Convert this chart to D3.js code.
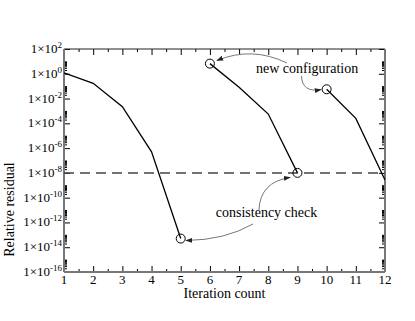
<!DOCTYPE html>
<html>
<head>
<meta charset="utf-8">
<script src="https://cdn.jsdelivr.net/npm/d3@7"></script>
<style>
  body { margin: 0; background: #fff; }
  svg text { font-family: "Liberation Serif", "DejaVu Serif", serif; }
</style>
</head>
<body>
<div id="chart"></div>
<script>
// iterations and relative residuals, one array per solve
var run1X = [1, 2, 3, 4, 5];
var run1Y = [1.2, 0.17, 2.2e-3, 5e-7, 5e-14];
var run2X = [6, 7, 8, 9];
var run2Y = [6.6, 0.08, 5.6e-4, 1e-8];
var run3X = [10, 11, 12];
var run3Y = [0.056, 2.5e-4, 2.7e-9];

// circled points
var markX = [5, 6, 9, 10];
var markY = [5e-14, 6.6, 1e-8, 0.056];

var threshold = 1e-8;

var xTicks = [1, 2, 3, 4, 5, 6, 7, 8, 9, 10, 11, 12];
var yExponents = [2, 0, -2, -4, -6, -8, -10, -12, -14, -16];

// annotations, in data units: [iteration, log10(residual)]
var arrows = [
  [[8.64, 0.87], [7.44, 2.24], [6.24, 1.07]],
  [[9.14, -0.18], [9.16, -1.55], [9.81, -1.27]],
  [[7.68, -10.99], [7.72, -8.73], [8.75, -8.37]],
  [[7.48, -12.12], [6.52, -13.42], [5.18, -13.46]]
];
var labels = [
  { text: "new configuration", x: 9.33, e: 0.09 },
  { text: "consistency check", x: 7.94, e: -11.54 }
];

var serif = "Liberation Serif";

var svgWidth = 415, svgHeight = 321;
var margin = { top: 49, right: 30, bottom: 49, left: 64 };
var width = svgWidth - margin.left - margin.right;
var height = svgHeight - margin.top - margin.bottom;

var svg = d3.select("#chart").append("svg")
  .attr("width", svgWidth)
  .attr("height", svgHeight);

var defs = svg.append("defs");
defs.append("marker")
  .attr("id", "head")
  .attr("viewBox", "0 0 10 10")
  .attr("refX", 9).attr("refY", 5)
  .attr("markerWidth", 7).attr("markerHeight", 7)
  .attr("markerUnits", "userSpaceOnUse")
  .attr("orient", "auto")
  .append("path")
  .attr("d", "M0,1.5 L10,5 L0,8.5 z")
  .attr("fill", "#222");
defs.append("clipPath").attr("id", "clip")
  .append("rect").attr("width", width).attr("height", height);

var g = svg.append("g")
  .attr("transform", `translate(${margin.left}, ${margin.top})`);

var x = d3.scaleLinear().domain([1, 12]).range([0, width]);
var y = d3.scaleLog().domain([1e-16, 1e2]).range([height, 0]);

// minor ticks: 2..10 x 10^e for even e
var yMinor = [];
yExponents.filter(e => e < 2).forEach(e => {
  for (var k = 2; k <= 10; k++) yMinor.push(k * Math.pow(10, e));
});
var xMinor = d3.range(1.5, 12, 1);
var yMajor = yExponents.map(e => Math.pow(10, e));

function styleAxis(sel) {
  sel.select(".domain").remove();
  sel.selectAll("line").attr("stroke", "#000").attr("stroke-width", 1);
  sel.selectAll("text").remove();
}

// x axes (bottom & top, ticks inward)
g.append("g").attr("transform", `translate(0, ${height})`)
  .call(d3.axisBottom(x).tickValues(xTicks).tickSize(-6)).call(styleAxis);
g.append("g").attr("transform", `translate(0, ${height})`)
  .call(d3.axisBottom(x).tickValues(xMinor).tickSize(-3)).call(styleAxis);
g.append("g")
  .call(d3.axisTop(x).tickValues(xTicks).tickSize(-6)).call(styleAxis);
g.append("g")
  .call(d3.axisTop(x).tickValues(xMinor).tickSize(-3)).call(styleAxis);

// y axes (left & right)
g.append("g")
  .call(d3.axisLeft(y).tickValues(yMajor).tickSize(-6)).call(styleAxis);
g.append("g")
  .call(d3.axisLeft(y).tickValues(yMinor).tickSize(-3)).call(styleAxis);
g.append("g").attr("transform", `translate(${width}, 0)`)
  .call(d3.axisRight(y).tickValues(yMajor).tickSize(-6)).call(styleAxis);
g.append("g").attr("transform", `translate(${width}, 0)`)
  .call(d3.axisRight(y).tickValues(yMinor).tickSize(-3)).call(styleAxis);

// frame
g.append("line").attr("x1", 0).attr("x2", width).attr("y1", 0).attr("y2", 0)
  .attr("stroke", "#222").attr("stroke-width", 1.2);
g.append("line").attr("x1", 0).attr("x2", width).attr("y1", height).attr("y2", height)
  .attr("stroke", "#777").attr("stroke-width", 2);
g.append("line").attr("x1", 0).attr("x2", 0).attr("y1", 0).attr("y2", height)
  .attr("stroke", "#777").attr("stroke-width", 2);
g.append("line").attr("x1", width).attr("x2", width).attr("y1", 0).attr("y2", height)
  .attr("stroke", "#777").attr("stroke-width", 2);

// tick labels
g.selectAll(".xlab").data(xTicks).enter().append("text")
  .attr("x", d => x(d)).attr("y", height + 11.5)
  .attr("text-anchor", "middle")
  .style("font-family", serif).style("font-size", "13px")
  .text(d => d);

var ylab = g.selectAll(".ylab").data(yExponents).enter().append("text")
  .attr("x", -2).attr("y", d => y(Math.pow(10, d)) + 4)
  .attr("text-anchor", "end")
  .style("font-family", serif).style("font-size", "13px");
ylab.append("tspan").text("1\u00d710");
ylab.append("tspan").attr("dy", -5).style("font-size", "9px").text(d => d);

// axis titles
g.append("text").attr("x", width / 2).attr("y", height + 26)
  .attr("text-anchor", "middle")
  .style("font-family", serif).style("font-size", "14px").text("Iteration count");
g.append("text").attr("transform", `translate(-50, ${height / 2 + 49}) rotate(-90)`)
  .attr("text-anchor", "middle")
  .style("font-family", serif).style("font-size", "14px").text("Relative residual");

// threshold
g.append("line").attr("x1", 0).attr("x2", width)
  .attr("y1", y(threshold)).attr("y2", y(threshold))
  .attr("stroke", "#444").attr("stroke-width", 1.5)
  .attr("stroke-dasharray", "10,6");

// runs
var line = d3.line().x(d => x(d[0])).y(d => y(d[1]));
[[run1X, run1Y], [run2X, run2Y], [run3X, run3Y]].forEach(r => {
  g.append("path")
    .datum(d3.zip(r[0], r[1]))
    .attr("clip-path", "url(#clip)")
    .attr("d", line)
    .attr("fill", "none").attr("stroke", "#000").attr("stroke-width", 1.3);
});

g.selectAll(".mark").data(d3.zip(markX, markY)).enter().append("circle")
  .attr("cx", d => x(d[0])).attr("cy", d => y(d[1])).attr("r", 4.5)
  .attr("fill", "none").attr("stroke", "#000").attr("stroke-width", 1);

// annotations
arrows.forEach(a => {
  var p = a.map(d => [x(d[0]), y(Math.pow(10, d[1]))]);
  g.append("path")
    .attr("d", `M${p[0][0]},${p[0][1]} Q${p[1][0]},${p[1][1]} ${p[2][0]},${p[2][1]}`)
    .attr("fill", "none").attr("stroke", "#777").attr("stroke-width", 1)
    .attr("marker-end", "url(#head)");
});
g.selectAll(".note").data(labels).enter().append("text")
  .attr("x", d => x(d.x)).attr("y", d => y(Math.pow(10, d.e)))
  .attr("text-anchor", "middle")
  .style("font-family", serif).style("font-size", "14px")
  .text(d => d.text);
</script>
</body>
</html>
